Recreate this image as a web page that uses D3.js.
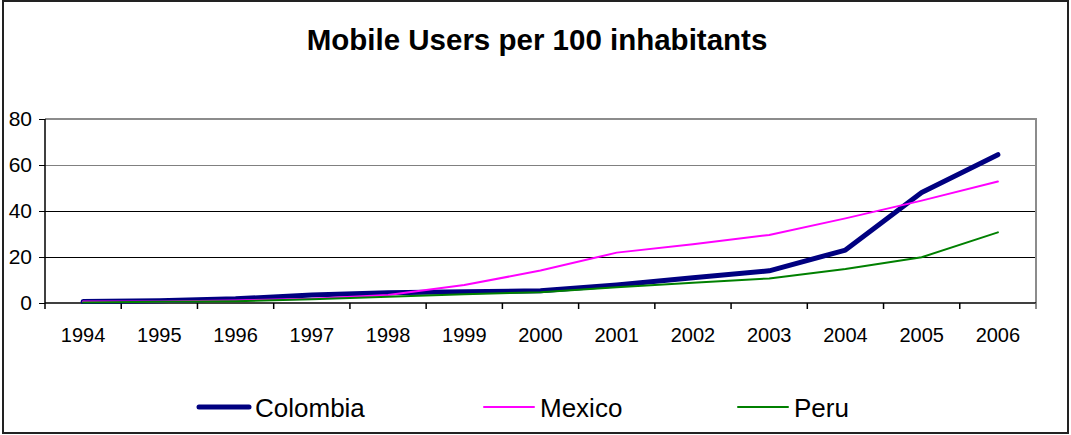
<!DOCTYPE html>
<html>
<head>
<meta charset="utf-8">
<script src="https://cdn.jsdelivr.net/npm/d3@7"></script>
<style>
  html, body { margin: 0; padding: 0; background: #fff; }
  svg { display: block; font-family: "Liberation Sans", Arial, sans-serif; }
</style>
</head>
<body>
<svg id="chart" width="1071" height="435"></svg>
<script>
// Mobile subscriptions per 100 inhabitants, 1994-2006
const years = ["1994", "1995", "1996", "1997", "1998", "1999", "2000",
               "2001", "2002", "2003", "2004", "2005", "2006"];
const colombia = [0.6, 1.0, 1.8, 3.5, 4.5, 4.9, 5.3, 7.8, 11.0, 14.0, 23.0, 48.0, 64.5];
const mexico   = [0.6, 0.7, 1.1, 1.8, 3.5, 7.8, 14.1, 21.9, 25.5, 29.6, 36.8, 44.5, 52.8];
const peru     = [0.2, 0.5, 0.8, 1.6, 2.7, 3.8, 4.7, 6.8, 8.8, 10.7, 14.8, 19.9, 30.7];
const yTicks   = [0, 20, 40, 60, 80];

const series = [
  { name: "Colombia", values: colombia, color: "#000080", width: 5 },
  { name: "Mexico",   values: mexico,   color: "#FF00FF", width: 2 },
  { name: "Peru",     values: peru,     color: "#008000", width: 2 }
];

const svg = d3.select("#chart");

// outer frame
svg.append("rect")
  .attr("x", 3).attr("y", 1).attr("width", 1065).attr("height", 432)
  .attr("fill", "#fff").attr("stroke", "#222").attr("stroke-width", 2);

// title
svg.append("text")
  .attr("x", 537).attr("y", 50)
  .attr("text-anchor", "middle")
  .attr("font-weight", "bold")
  .attr("font-size", 29.5)
  .text("Mobile Users per 100 inhabitants");

const plot = { left: 45, right: 1036, top: 119, bottom: 303 };

const x = d3.scaleBand().domain(years).range([plot.left, plot.right]);
const y = d3.scaleLinear().domain([0, 80]).range([plot.bottom, plot.top]);

// horizontal gridlines
const gridColor = v => v >= 60 ? "#808080" : "#000";
svg.append("g").selectAll("line")
  .data(yTicks.filter(v => v > 0 && v < 80))
  .join("line")
  .attr("x1", plot.left).attr("x2", plot.right)
  .attr("y1", d => y(d)).attr("y2", d => y(d))
  .attr("stroke", gridColor).attr("stroke-width", 1)
  .attr("shape-rendering", "crispEdges");

// plot frame: top and right in gray
svg.append("path")
  .attr("d", `M${plot.left},${y(80)}H${plot.right}V${plot.bottom}`)
  .attr("fill", "none").attr("stroke", "#8c8c8c").attr("stroke-width", 2);

// y axis
const yAxis = d3.axisLeft(y).tickValues(yTicks).tickSize(6).tickPadding(7);
const gy = svg.append("g").attr("transform", `translate(${plot.left},0)`).call(yAxis);
gy.select(".domain").remove();
gy.selectAll(".tick line").attr("stroke", "#000");
gy.selectAll(".tick text")
  .attr("font-family", "Liberation Sans, Arial, sans-serif")
  .attr("font-size", 21).attr("fill", "#000");
svg.append("line")
  .attr("x1", plot.left).attr("x2", plot.left)
  .attr("y1", plot.top).attr("y2", plot.bottom)
  .attr("stroke", "#000").attr("stroke-width", 1.5);

// x axis: line, tick marks at category boundaries, labels at centers
svg.append("line")
  .attr("x1", plot.left).attr("x2", plot.right)
  .attr("y1", plot.bottom).attr("y2", plot.bottom)
  .attr("stroke", "#000").attr("stroke-width", 1.5);
const boundaries = years.map(d => x(d)).concat([x.range()[1]]);
svg.append("g").selectAll("line")
  .data(boundaries)
  .join("line")
  .attr("x1", d => d).attr("x2", d => d)
  .attr("y1", plot.bottom).attr("y2", plot.bottom + 6)
  .attr("stroke", (d, i) => i === boundaries.length - 1 ? "#666" : "#000")
  .attr("stroke-width", 1.5);
svg.append("g").selectAll("text")
  .data(years)
  .join("text")
  .attr("x", d => x(d) + x.bandwidth() / 2)
  .attr("y", 341.5)
  .attr("text-anchor", "middle")
  .attr("font-size", 20)
  .text(d => d);

// series lines
const line = d3.line()
  .x((d, i) => x(years[i]) + x.bandwidth() / 2)
  .y(d => y(d));

svg.append("g").selectAll("path")
  .data(series)
  .join("path")
  .attr("d", s => line(s.values))
  .attr("fill", "none")
  .attr("stroke", s => s.color)
  .attr("stroke-width", s => s.width)
  .attr("stroke-linejoin", "round")
  .attr("stroke-linecap", "round");

// legend
const legendX = [199, 484, 738];
const legend = svg.append("g").selectAll("g")
  .data(series)
  .join("g")
  .attr("transform", (s, i) => `translate(${legendX[i]},407)`);
legend.append("line")
  .attr("x1", 0).attr("x2", 50)
  .attr("stroke", s => s.color)
  .attr("stroke-width", s => s.width)
  .attr("stroke-linecap", "round");
legend.append("text")
  .attr("x", 56).attr("y", 9.5)
  .attr("font-size", 26)
  .text(s => s.name);
</script>
</body>
</html>
